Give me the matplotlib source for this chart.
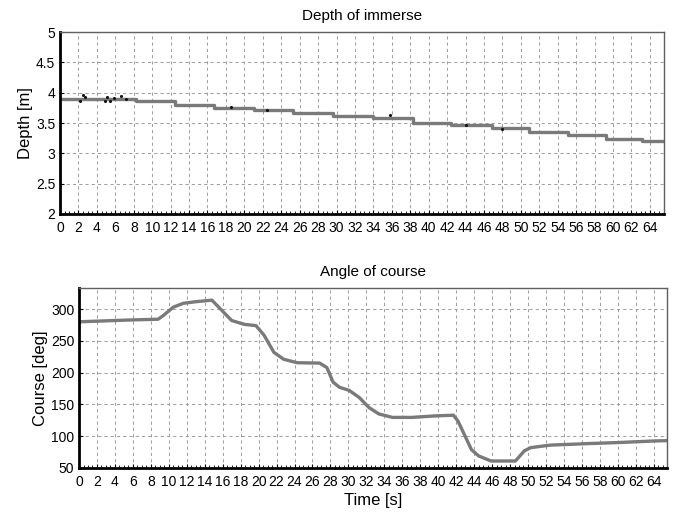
#depth and course of the vehicle
import numpy as np
import matplotlib
matplotlib.use('Agg')
from matplotlib import pyplot as plt
from matplotlib.ticker import MultipleLocator

plt.rcParams['font.family'] = ['Liberation Sans', 'DejaVu Sans']

# depth steps: start time [s] and level [m]
depth_t = [0, 8.2, 12.5, 16.7, 21.0, 25.3, 29.6, 34.0, 38.3, 42.4, 46.9, 50.9, 55.1, 59.2, 63.2, 65.5]
depth_m = [3.90, 3.855, 3.80, 3.75, 3.71, 3.66, 3.61, 3.575, 3.50, 3.46, 3.41, 3.35, 3.30, 3.24, 3.20, 3.20]

# stray samples around the depth line
noise_t = [2.2, 2.5, 2.7, 4.9, 5.1, 5.4, 5.9, 6.6, 7.2, 18.5, 22.5, 35.8, 44.0, 48.0]
noise_m = [3.86, 3.96, 3.93, 3.86, 3.93, 3.87, 3.92, 3.94, 3.89, 3.77, 3.72, 3.63, 3.47, 3.40]

# course readings
course_t = [0, 2, 4, 6, 8.8, 9.4, 10.5, 11.6, 13.0, 14.8, 15.9, 17.0, 18.4, 19.7, 20.6,
            21.7, 22.8, 24.3, 26.8, 27.6, 28.3, 29.0, 30.1, 31.2, 32.3, 33.4, 34.9, 37.1,
            39.7, 41.7, 42.2, 43.0, 43.7, 44.5, 45.9, 48.6, 49.6, 50.3, 52.5, 56.9, 60.0,
            64.2, 65.5]
course_deg = [280, 281, 282, 283, 284, 290, 303, 309, 311.6, 314, 298, 282, 276, 274, 259,
              232, 221, 215.6, 215, 208, 185, 177, 172, 161, 145, 135, 129.6, 129.6,
              132, 133, 124, 100, 79, 69, 61, 61, 77, 82, 86, 88.5, 90,
              92.6, 93]

fig = plt.figure(figsize=(6.76, 5.14), dpi=100)
ax1 = fig.add_axes([0.0888, 0.5837, 0.893, 0.354])
ax2 = fig.add_axes([0.1169, 0.0895, 0.870, 0.350])

line_col = '#7a7a7a'


def style(ax):
    ax.set_xlim(0, 65.5)
    ax.xaxis.set_major_locator(MultipleLocator(2))
    ax.xaxis.set_minor_locator(MultipleLocator(0.5))
    ax.tick_params(which='both', direction='in', labelsize=10)
    ax.tick_params(axis='x', pad=5)
    ax.tick_params(which='major', length=3)
    ax.tick_params(which='minor', length=2)
    ax.grid(True, which='major', color='#a0a0a0', linestyle=(0, (3, 3)), linewidth=0.75)
    ax.set_axisbelow(True)
    for s in ['left', 'bottom']:
        ax.spines[s].set_linewidth(2)
        ax.spines[s].set_color('black')
    for s in ['top', 'right']:
        ax.spines[s].set_linewidth(1)
        ax.spines[s].set_color('#606060')


ax1.step(depth_t, depth_m, where='post', color=line_col, linewidth=2.4)
ax1.scatter(noise_t, noise_m, s=1.5, color='#111111', zorder=3)
ax1.set_ylim(2, 5)
ax1.set_yticks([2, 2.5, 3, 3.5, 4, 4.5, 5])
ax1.set_yticklabels(['2', '2.5', '3', '3.5', '4', '4.5', '5'])
ax1.set_title('Depth of immerse', fontsize=11, pad=9)
ax1.set_ylabel('Depth [m]', fontsize=12, labelpad=2)
style(ax1)

ax2.plot(course_t, course_deg, color=line_col, linewidth=2.4)
ax2.set_ylim(50, 333)
ax2.set_yticks([50, 100, 150, 200, 250, 300])
ax2.set_title('Angle of course', fontsize=11, pad=9)
ax2.set_ylabel('Course [deg]', fontsize=12, labelpad=2)
ax2.set_xlabel('Time [s]', fontsize=12, labelpad=3)
style(ax2)

fig.savefig('out.png', dpi=100)
